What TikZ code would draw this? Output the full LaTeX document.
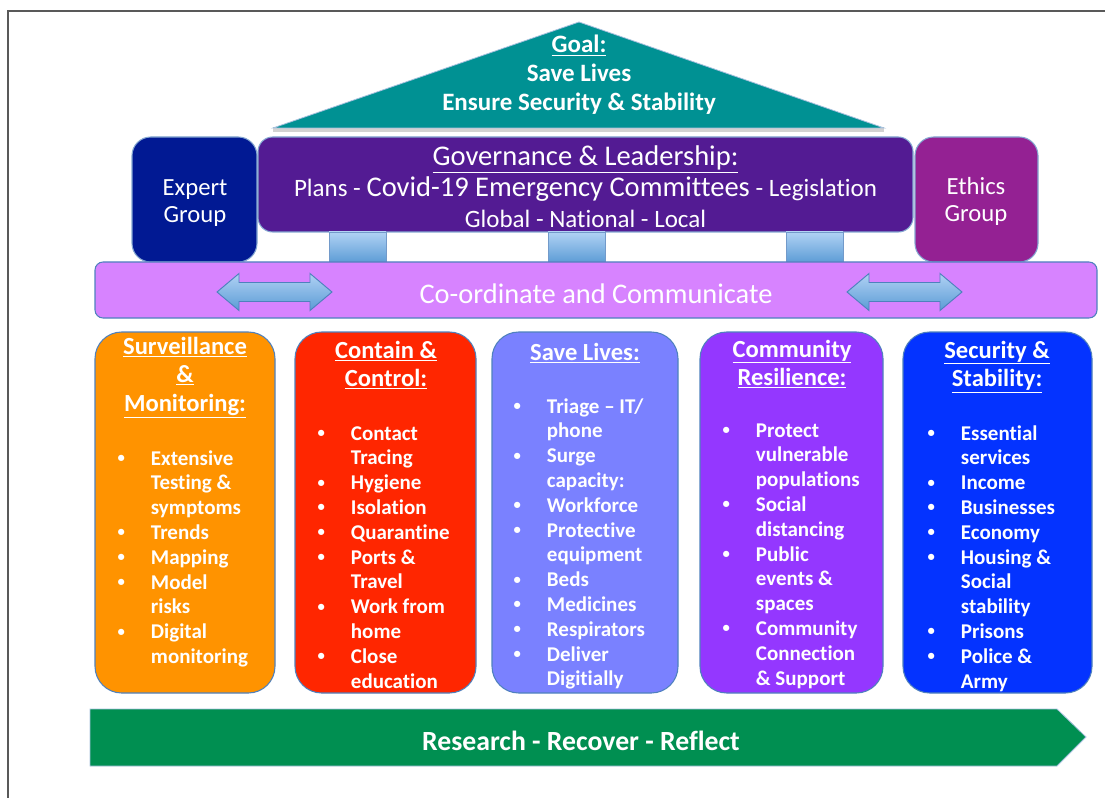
\documentclass[tikz,border=0pt]{standalone}
\usepackage{fontspec}
\setmainfont{Carlito}[Ligatures=NoCommon]
\usepackage{xcolor}
\usetikzlibrary{positioning}

\definecolor{goalteal}{HTML}{009193}
\definecolor{expertblue}{HTML}{011993}
\definecolor{govpurple}{HTML}{531B93}
\definecolor{ethicsplum}{HTML}{942193}
\definecolor{coordlilac}{HTML}{D783FF}
\definecolor{survorange}{HTML}{FF9300}
\definecolor{containred}{HTML}{FF2600}
\definecolor{saveperi}{HTML}{7A81FF}
\definecolor{commgrape}{HTML}{9437FF}
\definecolor{secblue}{HTML}{0433FF}
\definecolor{researchgreen}{HTML}{008F51}
\definecolor{edgeblue}{HTML}{4F81BD}
\definecolor{pillartop}{HTML}{B0D2F4}
\definecolor{pillarbot}{HTML}{5B9BD5}
\definecolor{framegray}{HTML}{595959}

\newcommand{\bodyfont}{\bfseries\fontsize{15.75}{18.6}\selectfont}
\newcommand{\headfont}{\bfseries\fontsize{18.45}{21.4}\selectfont}
\newcommand{\govbig}{\fontsize{21.4}{22.9}\selectfont}
\newcommand{\bul}{\hspace{1pt}\raisebox{0.25ex}{\fontsize{11}{11}\selectfont\textbullet}}
\newcommand{\itemlist}[1]{\begin{tabular}[t]{@{}p{26pt}@{}l@{}}#1\end{tabular}}
\newcommand{\linelist}[1]{\begin{tabular}[t]{@{}c@{}}#1\end{tabular}}

\tikzset{
  colbox/.style={draw=edgeblue, line width=0.8pt, rounded corners=20pt},
  topbox/.style={draw=edgeblue!70, line width=0.8pt, rounded corners=14pt},
  headtext/.style={anchor=base, inner sep=0pt, text=white, font=\headfont},
  listtext/.style={anchor=base west, inner sep=0pt, text=white, font=\bodyfont},
  whitetext/.style={anchor=base, inner sep=0pt, text=white}
}

\begin{document}
\begin{tikzpicture}[x=0.75pt, y=-0.75pt]
		\useasboundingbox (0,0) rectangle (1105,798);

		% frame
		\draw[framegray, line width=1.2pt] (1105,11) -| (8,798);

		% goal roof
		\fill[gray!35] (273,127) rectangle (884,132);
		\draw[edgeblue!50, fill=goalteal, line width=0.6pt] (273,128) -- (579,22) -- (884,128) -- cycle;
		\node[whitetext, font=\bfseries\fontsize{18.75}{21.4}\selectfont] (goal) at (579,53)
			{\linelist{\underline{Goal:}\\ Save Lives\\ Ensure Security \& Stability}};

		% governance row
		\draw[topbox, fill=expertblue] (132,137) rectangle (257,262);
		\draw[topbox, rounded corners=11pt, fill=govpurple] (258,137) rectangle (913,232);
		\draw[topbox, fill=ethicsplum] (915,137) rectangle (1038,262);
		\node[whitetext, font=\fontsize{18.5}{20.25}\selectfont] (expert) at (195,196) {\linelist{Expert\\ Group}};
		\node[whitetext, font=\fontsize{18.75}{22.9}\selectfont] (gov) at (585.5,166)
			{\linelist{{\govbig\underline{Governance \& Leadership:}}\\
			Plans - {\govbig Covid-19 Emergency Committees} - Legislation\\
			Global - National - Local}};
		\node[whitetext, font=\fontsize{18.5}{20.25}\selectfont] (ethics) at (976,195) {\linelist{Ethics\\ Group}};

		% pillars
		\foreach \px in {329,548,786}
			\draw[edgeblue!80, top color=pillartop, bottom color=pillarbot, line width=0.5pt] (\px,232) rectangle (\px+57,263);

		% co-ordinate bar
		\draw[edgeblue, line width=0.8pt, rounded corners=6pt, fill=coordlilac] (95,262) rectangle (1097,318);
		\node[whitetext, font=\fontsize{21.3}{24}\selectfont] (coord) at (596,303) {Co-ordinate and Communicate};
		\foreach \ax in {217,847}
			\draw[edgeblue, line width=0.7pt, top color=pillartop, bottom color=pillarbot]
				(\ax,292) -- (\ax+22,273.5) -- (\ax+22,282.5) -- (\ax+93,282.5) -- (\ax+93,273.5)
				-- (\ax+115,292) -- (\ax+93,310.5) -- (\ax+93,301.5) -- (\ax+22,301.5) -- (\ax+22,310.5) -- cycle;

		% columns
		\draw[colbox, fill=survorange] (95,332) rectangle (275,693);
		\draw[colbox, fill=containred] (295,332) rectangle (476,693);
		\draw[colbox, fill=saveperi] (492,332) rectangle (678,693);
		\draw[colbox, fill=commgrape] (700,332) rectangle (883,693);
		\draw[colbox, fill=secblue] (903,332) rectangle (1092,693);

		\node[headtext] (survhead) at (185,354) {\linelist{\underline{Surveillance}\\ \underline{\&}\\ \underline{Monitoring:}}};
		\node[listtext] (survlist) at (116,465) {\itemlist{\bul & Extensive\\ & Testing \&\\ & symptoms\\ \bul & Trends\\ \bul & Mapping\\
			\bul & Model\\ & risks\\ \bul & Digital\\ & monitoring}};

		\node[headtext] (conthead) at (386,358) {\linelist{\underline{Contain \&}\\ \underline{Control:}}};
		\node[listtext] (contlist) at (316,440) {\itemlist{\bul & Contact\\ & Tracing\\ \bul & Hygiene\\ \bul & Isolation\\ \bul & Quarantine\\
			\bul & Ports \&\\ & Travel\\ \bul & Work from\\ & home\\ \bul & Close\\ & education}};

		\node[headtext] (savehead) at (585,360) {\linelist{\underline{Save Lives:}}};
		\node[listtext] (savelist) at (512,413) {\itemlist{\bul & Triage -- IT/\\ & phone\\ \bul & Surge\\ & capacity:\\ \bul & Workforce\\
			\bul & Protective\\ & equipment\\ \bul & Beds\\ \bul & Medicines\\ \bul & Respirators\\ \bul & Deliver\\ & Digitially}};

		\node[headtext] (commhead) at (792,357) {\linelist{\underline{Community}\\ \underline{Resilience:}}};
		\node[listtext] (commlist) at (721,437) {\itemlist{\bul & Protect\\ & vulnerable\\ & populations\\ \bul & Social\\ & distancing\\
			\bul & Public\\ & events \&\\ & spaces\\ \bul & Community\\ & Connection\\ & \& Support}};

		\node[headtext] (sechead) at (997,358) {\linelist{\underline{Security \&}\\ \underline{Stability:}}};
		\node[listtext] (seclist) at (926,440) {\itemlist{\bul & Essential\\ & services\\ \bul & Income\\ \bul & Businesses\\ \bul & Economy\\
			\bul & Housing \&\\ & Social\\ & stability\\ \bul & Prisons\\ \bul & Police \&\\ & Army}};

		% research arrow
		\draw[edgeblue!50, line width=0.6pt, fill=researchgreen] (90,709) -- (1057,709) -- (1086,737) -- (1057,766) -- (90,766) -- cycle;
		\node[whitetext, font=\bfseries\fontsize{20.8}{24}\selectfont] (research) at (581,750) {Research - Recover - Reflect};
	\end{tikzpicture}
\end{document}
